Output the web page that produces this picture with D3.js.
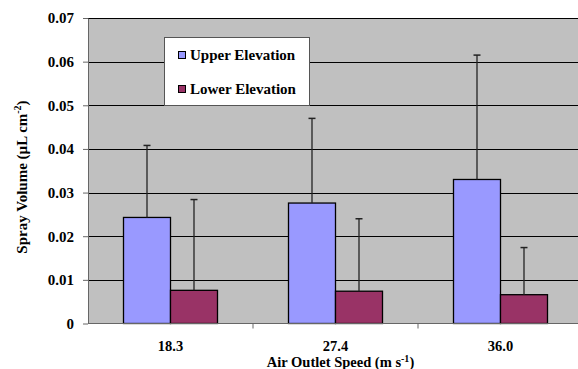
<!DOCTYPE html>
<html><head><meta charset="utf-8">
<script src="https://cdn.jsdelivr.net/npm/d3@7"></script>
<style>body{margin:0;background:#fff}svg{display:block}</style>
</head><body>
<script>
const categories = ["18.3", "27.4", "36.0"];
const seriesNames = ["Upper Elevation", "Lower Elevation"];
const upperValues = [0.0243, 0.0276, 0.0330];
const upperErrors = [0.0165, 0.0194, 0.0285];
const lowerValues = [0.0076, 0.0074, 0.0066];
const lowerErrors = [0.0208, 0.0166, 0.0108];
const yTicks = [0, 0.01, 0.02, 0.03, 0.04, 0.05, 0.06, 0.07];
const yTickLabels = ["0", "0.01", "0.02", "0.03", "0.04", "0.05", "0.06", "0.07"];
const colors = ["#9999FF", "#993366"];

const FONT = "'Liberation Serif', 'Times New Roman', Times, serif";
const W = 578, H = 369;
const m = {left: 88, top: 18, right: 583, bottom: 323.5};
const svg = d3.select("body").append("svg").attr("width", W).attr("height", H)
  .style("font-family", FONT).style("font-weight", "bold");

const x = d3.scaleBand().domain(categories).range([m.left, m.right]).paddingInner(0).paddingOuter(0);
const y = d3.scaleLinear().domain([0, 0.07]).range([m.bottom, m.top]);

svg.append("rect").attr("x", m.left).attr("y", m.top).attr("width", m.right - m.left).attr("height", m.bottom - m.top).attr("fill", "#C0C0C0");

// gridlines
svg.append("g").selectAll("line").data(yTicks.slice(1)).join("line")
  .attr("x1", m.left).attr("x2", m.right)
  .attr("y1", d => Math.round(y(d)) + 0.5).attr("y2", d => Math.round(y(d)) + 0.5)
  .attr("stroke", "#000").attr("stroke-width", 1);

const bw = 47;
const groups = [
  {vals: upperValues, errs: upperErrors, off: -bw, color: colors[0]},
  {vals: lowerValues, errs: lowerErrors, off: 0, color: colors[1]}
];
groups.forEach(g => {
  const gg = svg.append("g");
  categories.forEach((c, i) => {
    const cx = x(c) + x.bandwidth() / 2;
    gg.append("rect").attr("x", cx + g.off).attr("y", y(g.vals[i]))
      .attr("width", bw).attr("height", y(0) - y(g.vals[i]))
      .attr("fill", g.color).attr("stroke", "#000").attr("stroke-width", 1.3);
    const ex = cx + g.off + bw / 2;
    gg.append("line").attr("x1", ex).attr("x2", ex).attr("y1", y(g.vals[i])).attr("y2", y(g.vals[i] + g.errs[i]))
      .attr("stroke", "#222").attr("stroke-width", 1.3);
    gg.append("line").attr("x1", ex - 3.5).attr("x2", ex + 3.5).attr("y1", y(g.vals[i] + g.errs[i])).attr("y2", y(g.vals[i] + g.errs[i]))
      .attr("stroke", "#222").attr("stroke-width", 1.5);
  });
});

// y axis
const yAxis = d3.axisLeft(y).tickValues(yTicks).tickFormat((d, i) => yTickLabels[i]).tickSize(5).tickSizeOuter(0);
const ya = svg.append("g").attr("transform", `translate(${m.left},0)`).call(yAxis)
  .attr("font-family", null).attr("font-size", null);
ya.selectAll("path, line").attr("stroke", "#666");
ya.selectAll("text").attr("font-size", 15).attr("x", -14).attr("dy", "0.33em").attr("fill", "#000");

// x axis
const xa = svg.append("g").attr("transform", `translate(0,${m.bottom})`);
xa.append("line").attr("x1", m.left).attr("x2", m.right).attr("y1", 0).attr("y2", 0).attr("stroke", "#666");
xa.selectAll("line.t").data(categories.slice(1)).join("line").attr("class", "t")
  .attr("x1", d => x(d)).attr("x2", d => x(d)).attr("y1", 0).attr("y2", 5).attr("stroke", "#666");
xa.selectAll("text").data(categories).join("text")
  .attr("x", d => x(d) + x.bandwidth() / 2).attr("y", 27.5).attr("text-anchor", "middle")
  .attr("font-size", 14.5).text(d => d);

// axis titles
const xt = svg.append("text").attr("x", 340.5).attr("y", 366.5).attr("text-anchor", "middle").attr("font-size", 14.5);
xt.append("tspan").text("Air Outlet Speed (m s");
xt.append("tspan").attr("dy", -5).attr("font-size", 10).text("-1");
xt.append("tspan").attr("dy", 5).text(")");

const yt = svg.append("text").attr("transform", "translate(27,177) rotate(-90)").attr("text-anchor", "middle").attr("font-size", 15);
yt.append("tspan").text("Spray Volume (µL cm");
yt.append("tspan").attr("dy", -6).attr("font-size", 10).text("-2");
yt.append("tspan").attr("dy", 6).text(")");

// legend
const lg = svg.append("g");
lg.append("rect").attr("x", 164.5).attr("y", 37.5).attr("width", 145).attr("height", 68)
  .attr("fill", "#fff").attr("stroke", "#555").attr("stroke-width", 1);
seriesNames.forEach((s, i) => {
  const yy = 55 + i * 34;
  lg.append("rect").attr("x", 178.5).attr("y", yy - 3.5).attr("width", 7).attr("height", 7)
    .attr("fill", colors[i]).attr("stroke", "#000").attr("stroke-width", 1);
  lg.append("text").attr("x", 190).attr("y", yy + 4.5).attr("font-size", 15).text(s);
});
</script>
</body></html>
